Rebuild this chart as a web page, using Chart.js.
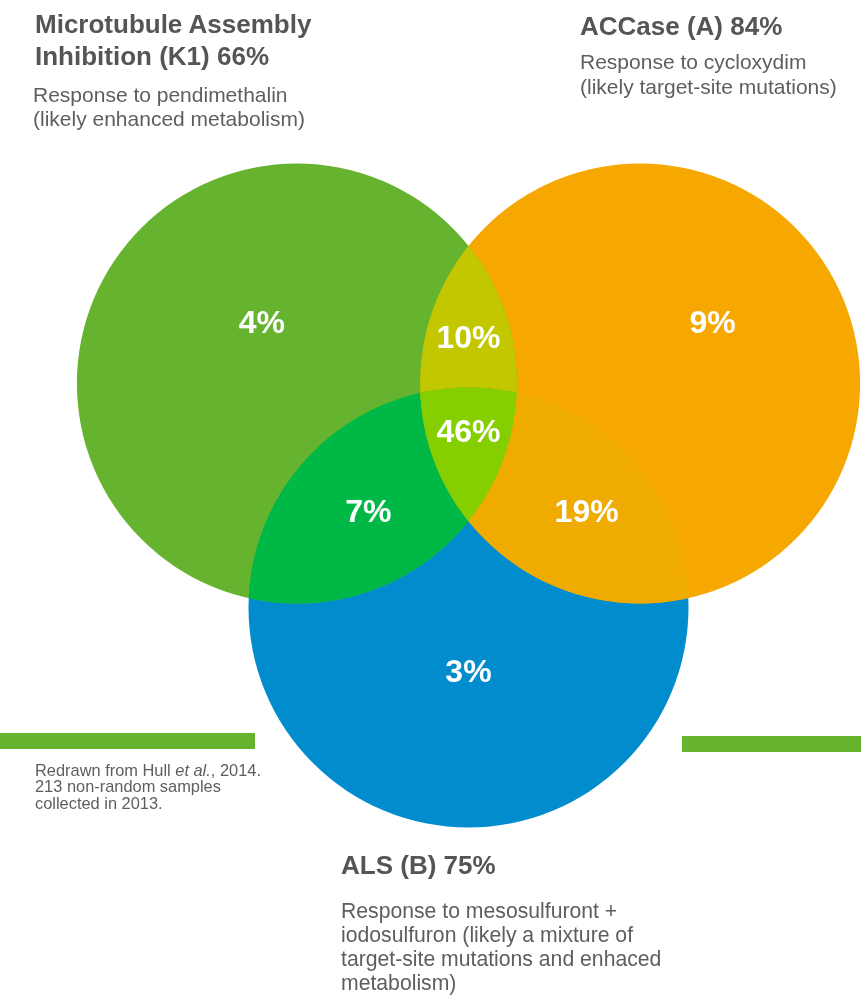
<!DOCTYPE html>
<html>
<head>
<meta charset="utf-8">
<script src="https://cdn.jsdelivr.net/npm/chart.js"></script>
<style>
  html, body { margin: 0; padding: 0; background: #ffffff; }
  #wrap { position: relative; width: 861px; height: 999px; overflow: hidden; }
  #chart { position: absolute; left: 0; top: 0; }
  .t { position: absolute; font-family: "Liberation Sans", Arial, Helvetica, sans-serif; white-space: nowrap; }
  .title { font-weight: bold; font-size: 26px; line-height: 32px; color: #555555; }
  .desc { font-size: 21px; line-height: 24px; color: #5e5e5e; }
  .note { font-size: 16.4px; line-height: 16.4px; color: #5e5e5e; }
  .bar { position: absolute; background: #65b32e; }
  #err { position: absolute; left: 300px; top: 400px; color: red; font: 12px monospace; white-space: pre-wrap; width: 500px; }
</style>
</head>
<body>
<div id="wrap">
  <canvas id="chart" width="861" height="999"></canvas>
  <div class="bar" style="left:0;top:733px;width:255px;height:16px"></div>
  <div class="bar" style="left:682px;top:736px;width:179px;height:16px"></div>
  <div class="t title" style="left:35px;top:8px">Microtubule Assembly<br>Inhibition (K1) 66%</div>
  <div class="t desc" style="left:33px;top:83px">Response to pendimethalin<br>(likely enhanced metabolism)</div>
  <div class="t title" style="left:580px;top:10px">ACCase (A) 84%</div>
  <div class="t desc" style="left:580px;top:49px;line-height:25px">Response to cycloxydim<br>(likely target-site mutations)</div>
  <div class="t title" style="left:341px;top:849px">ALS (B) 75%</div>
  <div class="t desc" style="left:341px;top:899px;font-size:21.2px">Response to mesosulfuront +<br>iodosulfuron (likely a mixture of<br>target-site mutations and enhaced<br>metabolism)</div>
  <div class="t note" style="left:35px;top:762px">Redrawn from Hull <i>et al.</i>, 2014.<br>213 non-random samples<br>collected in 2013.</div>
  <div id="err"></div>
</div>
<script>
// ---- data ----
const setNames = ['Microtubule Assembly Inhibition (K1)', 'ACCase (A)', 'ALS (B)'];
const setTotals = [66, 84, 75];
const regionNames = ['K1 only', 'A only', 'B only', 'K1 & A', 'K1 & B', 'A & B', 'K1 & A & B'];
const regionValues = [4, 9, 3, 10, 7, 19, 46];

// ---- layout (diagram units, circle radius = 1) ----
const circleRadius = 1;
const circleCenters = [[-0.78, 0], [0.78, 0], [0, -1.018]];
const regionAnchors = [[-0.939, 0.284], [1.110, 0.282], [0, -1.3055], [0, 0.2127], [-0.455, -0.575], [0.537, -0.575], [0, -0.2114]];
const view = { xMin: -2.1295, xMax: 1.7841, yMin: -2.7977, yMax: 1.7432 };

// ---- styles ----
const setColors = ['#65b32e', '#f6a800', '#008ccd'];
const pairColors = { '0-1': '#c2c700', '0-2': '#00b845', '1-2': '#efab00' };
const tripleColor = '#85cf00';

try {
  const vennPlugin = {
    id: 'venn',
    afterDatasetsDraw(chart) {
      const ctx = chart.ctx;
      const xs = chart.scales.x, ys = chart.scales.y;
      const rPx = xs.getPixelForValue(circleRadius) - xs.getPixelForValue(0);
      const circ = [0, 1, 2].map(i => {
        const el = chart.getDatasetMeta(i).data[0];
        return { x: el.x, y: el.y, r: rPx };
      });
      const path = c => { ctx.beginPath(); ctx.arc(c.x, c.y, c.r, 0, Math.PI * 2); };
      // full circles
      [2, 1, 0].forEach(i => {
        path(circ[i]); ctx.fillStyle = setColors[i]; ctx.fill();
      });
      // pairwise overlaps
      Object.keys(pairColors).forEach(k => {
        const [a, b] = k.split('-').map(Number);
        ctx.save();
        path(circ[a]); ctx.clip();
        path(circ[b]); ctx.fillStyle = pairColors[k]; ctx.fill();
        ctx.restore();
      });
      // triple overlap
      ctx.save();
      path(circ[0]); ctx.clip();
      path(circ[1]); ctx.clip();
      path(circ[2]); ctx.fillStyle = tripleColor; ctx.fill();
      ctx.restore();

      // region labels
      ctx.save();
      ctx.fillStyle = '#ffffff';
      ctx.font = 'bold 32px "Liberation Sans", Arial, sans-serif';
      ctx.textAlign = 'center';
      ctx.textBaseline = 'alphabetic';
      regionValues.forEach((v, i) => {
        const [ax, ay] = regionAnchors[i];
        const px = xs.getPixelForValue(ax);
        const py = ys.getPixelForValue(ay);
        ctx.fillText(v + '%', px, py + 11.5);
      });
      ctx.restore();
    }
  };

  new Chart(document.getElementById('chart'), {
    type: 'scatter',
    data: {
      datasets: setNames.map((name, i) => ({
        label: name + ' ' + setTotals[i] + '%',
        data: [{ x: circleCenters[i][0], y: circleCenters[i][1] }],
        backgroundColor: setColors[i],
        borderWidth: 0,
        pointRadius: 0
      }))
    },
    options: {
      responsive: false,
      animation: false,
      devicePixelRatio: 1,
      events: [],
      layout: { padding: 0 },
      plugins: { legend: { display: false }, tooltip: { enabled: false }, title: { display: false } },
      scales: {
        x: { type: 'linear', min: view.xMin, max: view.xMax, display: false },
        y: { type: 'linear', min: view.yMin, max: view.yMax, display: false }
      }
    },
    plugins: [vennPlugin]
  });
} catch (e) {
  document.getElementById('err').textContent = String(e && e.stack || e);
}
</script>
</body>
</html>
